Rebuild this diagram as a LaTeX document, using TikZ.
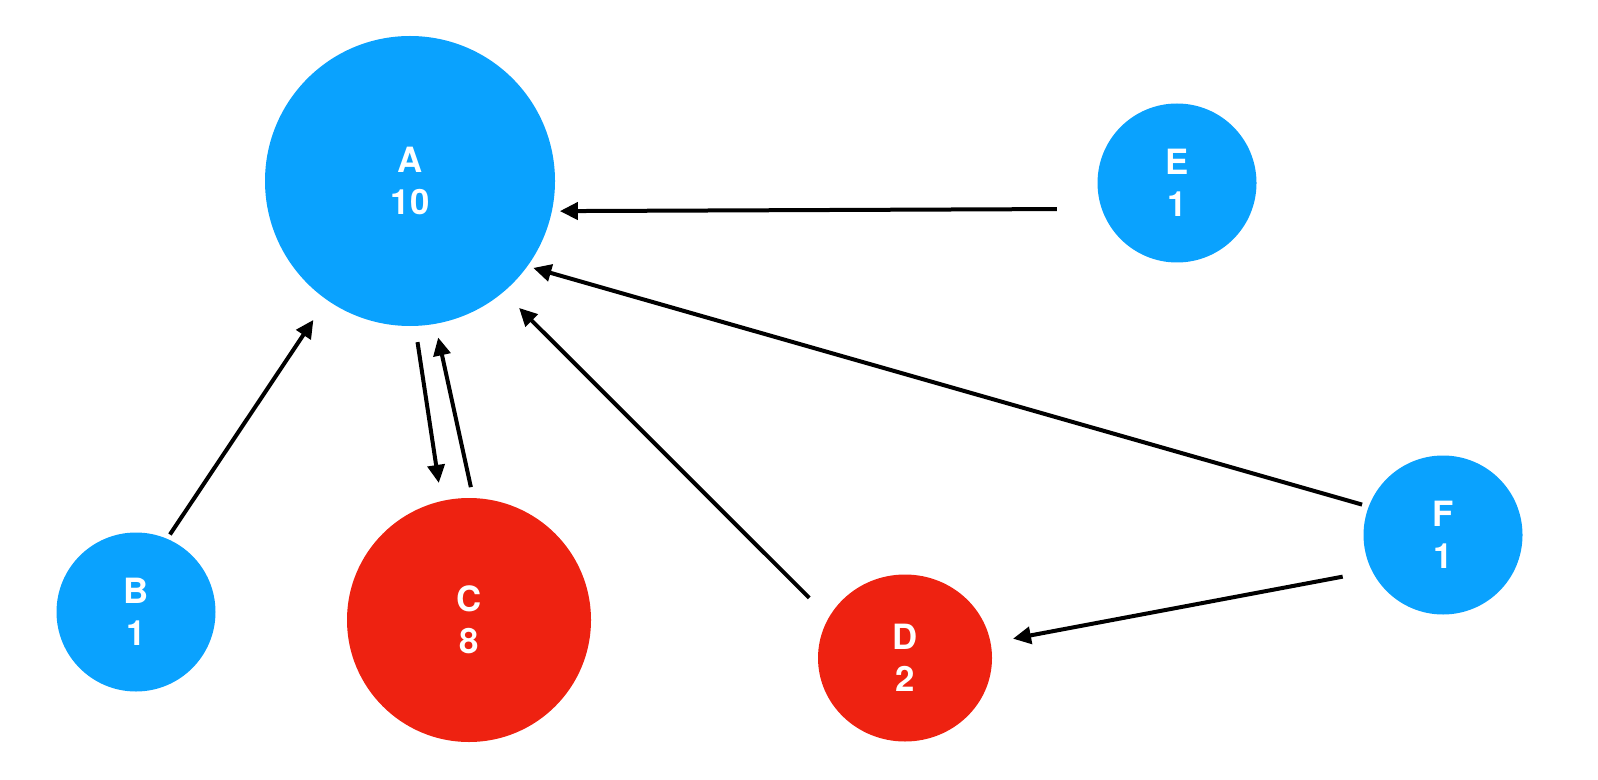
\documentclass[tikz,border=0pt]{standalone}
\usepackage{fontspec}
\setmainfont{TeX Gyre Heros}
\usetikzlibrary{automata,arrows.meta,shapes.geometric}
\definecolor{nodeblue}{RGB}{10,162,254}
\definecolor{nodered}{RGB}{238,34,17}
\tikzset{
  >={Triangle[length=9pt,width=8.5pt]},
  every state/.style={draw=none, circle, inner sep=0pt, outer sep=0pt, text=white,
    align=center, font=\fontsize{17.4}{21}\selectfont\bfseries},
  cold/.style={fill=nodeblue},
  hot/.style={fill=nodered},
}

\begin{document}
\begin{tikzpicture}[x=0.5pt, y=-0.5pt, ->, line width=2pt]
    \useasboundingbox (0,0) rectangle (1598,780);
    \node[state, cold, minimum size=145pt]  (a) at (410,181)  {A\\10};
    \node[state, cold, minimum size=79.5pt] (b) at (136,612)  {B\\1};
    \node[state, hot,  minimum size=122pt]  (c) at (469,620)  {C\\8};
    \node[state, hot, ellipse, minimum width=87pt, minimum height=83.5pt] (d) at (905,658) {D\\2};
    \node[state, cold, minimum size=79.5pt] (e) at (1177,183) {E\\1};
    \node[state, cold, minimum size=79.5pt] (f) at (1443,535) {F\\1};
    \path
      (e.199.9) edge [shorten <=22.5pt, shorten >=4pt]    (a.348.5)
      (f.159.3) edge [shorten <=3.5pt,  shorten >=3.1pt]  (a.324.5)
      (d.152.4) edge [shorten <=13.9pt, shorten >=11.2pt] (a.310)
      (b.67.8)  edge [shorten <=2.6pt,  shorten >=12.1pt] (a.235.9)
      (a.272.6) edge [shorten <=8.2pt,  shorten >=9.2pt]  (c.103)
      (c.88)    edge [shorten <=5.6pt,  shorten >=7pt]    (a.280.8)
      (f.207.4) edge [shorten <=15pt,   shorten >=11.4pt] (d.10.5);
\end{tikzpicture}
\end{document}
